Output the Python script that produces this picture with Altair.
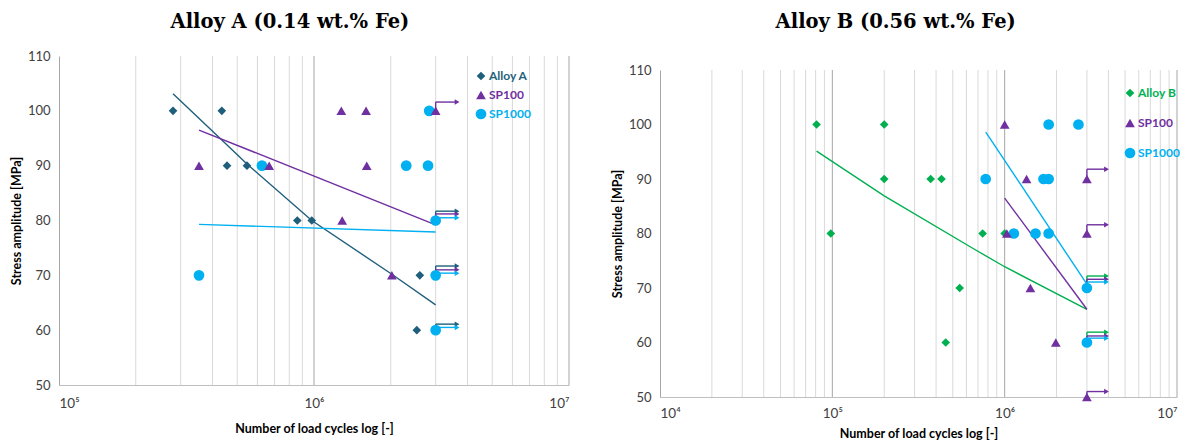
import altair as alt
import pandas as pd

# ---------------- Alloy A (0.14 wt.% Fe) ----------------
A_ALLOY_N = [2.8e5, 4.35e5, 4.56e5, 5.46e5, 8.6e5, 9.8e5, 2.6e6, 2.53e6]
A_ALLOY_S = [100, 100, 90, 90, 80, 80, 70, 60]
A_SP1000_N = [6.25e5, 3.54e5, 2.83e6, 2.3e6, 2.8e6, 3.0e6, 3.0e6, 3.0e6]
A_SP1000_S = [90, 70, 100, 90, 90, 80, 70, 60]
A_SP100_N = [3.54e5, 6.67e5, 1.28e6, 1.6e6, 1.61e6, 1.29e6, 3.0e6, 2.02e6]
A_SP100_S = [90, 90, 100, 100, 90, 80, 100, 70]

A_TREND_ALLOY_N = [2.8e5, 4.35e5, 5.46e5, 9.8e5, 2.02e6, 3.0e6]
A_TREND_ALLOY_S = [103.1, 94.7, 90.3, 80.0, 70.2, 64.6]
A_TREND_SP100_N = [3.54e5, 3.0e6]
A_TREND_SP100_S = [96.5, 79.2]
A_TREND_SP1000_N = [3.54e5, 3.0e6]
A_TREND_SP1000_S = [79.3, 77.9]

A_RUN_SERIES = ["SP100", "Alloy A", "SP100", "SP1000", "Alloy A", "SP100", "SP1000", "Alloy A", "SP1000"]
A_RUN_S0 = [100, 80, 80, 80, 70, 70, 70, 60, 60]
A_RUN_S1 = [101.6, 81.7, 81.2, 80.5, 71.7, 71.0, 70.4, 61.1, 60.5]
A_RUN_N0 = 3.0e6
A_RUN_N1 = 3.64e6

A_MINOR = [2e5, 3e5, 4e5, 5e5, 6e5, 7e5, 8e5, 9e5, 2e6, 3e6, 4e6, 5e6, 6e6, 7e6, 8e6, 9e6]
A_MAJOR = [1e6, 1e7]
A_LABELS = [1e5, 1e6, 1e7]

# ---------------- Alloy B (0.56 wt.% Fe) ----------------
B_ALLOY_N = [8.1e4, 2.0e5, 2.0e5, 9.8e4, 3.72e5, 4.3e5, 7.45e5, 1.0e6, 5.48e5, 4.55e5]
B_ALLOY_S = [100, 100, 90, 80, 90, 90, 80, 80, 70, 60]
B_SP1000_N = [1.8e6, 2.68e6, 7.76e5, 1.68e6, 1.8e6, 1.13e6, 1.51e6, 1.8e6, 3.0e6, 3.0e6]
B_SP1000_S = [100, 100, 90, 90, 90, 80, 80, 80, 70, 60]
B_SP100_N = [1.0e6, 1.34e6, 3.0e6, 1.03e6, 3.0e6, 1.41e6, 1.98e6, 3.0e6]
B_SP100_S = [100, 90, 90, 80, 80, 70, 60, 50]

B_TREND_ALLOY_N = [8.1e4, 2.0e5, 6.6e5, 1.0e6, 3.0e6]
B_TREND_ALLOY_S = [95.1, 86.9, 77.2, 73.9, 66.1]
B_TREND_SP100_N = [1.0e6, 3.0e6]
B_TREND_SP100_S = [86.5, 66.1]
B_TREND_SP1000_N = [7.77e5, 3.0e6]
B_TREND_SP1000_S = [98.6, 70.7]

B_RUN_SERIES = ["SP100", "SP100", "Alloy B", "SP100", "SP1000", "Alloy B", "SP100", "SP1000", "SP100"]
B_RUN_S0 = [90, 80, 70, 70, 70, 60, 60, 60, 50]
B_RUN_S1 = [91.8, 81.6, 72.2, 71.6, 71.1, 61.9, 61.2, 60.8, 51.0]
B_RUN_N0 = 3.0e6
B_RUN_N1 = 3.9e6

B_MINOR = [2e4, 3e4, 4e4, 5e4, 6e4, 7e4, 8e4, 9e4, 2e5, 3e5, 4e5, 5e5, 6e5, 7e5, 8e5, 9e5,
           2e6, 3e6, 4e6, 5e6, 6e6, 7e6, 8e6, 9e6]
B_MAJOR = [1e5, 1e6, 1e7]
B_LABELS = [1e4, 1e5, 1e6, 1e7]

Y_TICKS = [50, 60, 70, 80, 90, 100, 110]
Y_TOP = 110
Y_BOTTOM = 50

PURPLE = "#7030a0"
LBLUE = "#00b0f0"
TEAL = "#1f5f7c"
GREEN = "#00b050"

AXIS_FONT = "Lato"
TITLE_FONT = "DejaVu Serif"

LABEL_EXPR = ("datum.value >= 9e6 ? '10\u2077' : datum.value >= 9e5 ? '10\u2076' : "
              "datum.value >= 9e4 ? '10\u2075' : '10\u2074'")


def long(series, ns, ss):
    return pd.DataFrame({"series": [series] * len(ns), "N": ns, "S": ss})


def panel(title, alloy, alloy_color, pts, trends, runs, n0, n1, xmin, minor, major, labels,
          width, height, ytop, legx, legy, rowpad, xlabelpad, xtitlepad, toff):
    dom = [alloy, "SP100", "SP1000"]
    cmap = {alloy: alloy_color, "SP100": PURPLE, "SP1000": LBLUE}
    color_scale = alt.Scale(domain=dom, range=[alloy_color, PURPLE, LBLUE])
    xs = alt.Scale(type="log", domain=[xmin, 1e7], nice=False)
    ys = alt.Scale(domain=[Y_BOTTOM, Y_TOP], nice=False, range=[height, ytop])
    label_color = (f"datum.label == 'SP100' ? '{PURPLE}' : datum.label == 'SP1000' ? "
                   f"'{LBLUE}' : '{alloy_color}'")

    xaxis = alt.Axis(values=labels, labelExpr=LABEL_EXPR, grid=False, ticks=False,
                     domainColor="#bfbfbf", labelFont=AXIS_FONT, labelFontSize=13.5,
                     labelColor="#404040", labelPadding=xlabelpad,
                     title="Number of load cycles log [-]",
                     titleFont=AXIS_FONT, titleFontSize=12.5, titleFontWeight="bold",
                     titleColor="#000000", titlePadding=xtitlepad)
    yaxis = alt.Axis(values=Y_TICKS, grid=False, ticks=False, domainColor="#a6a6a6",
                     labelFont=AXIS_FONT, labelFontSize=13, labelColor="#404040",
                     labelPadding=9, title="Stress amplitude [MPa]", titleFont=AXIS_FONT,
                     titleFontSize=12.5, titleFontWeight="bold", titleColor="#000000",
                     titlePadding=4)

    trends = trends.copy()
    trends["col"] = trends["series"].map(cmap)
    runs = runs.copy()
    runs["N0"] = n0
    runs["N1"] = n1
    runs["col"] = runs["series"].map(cmap)

    minor_layer = alt.Chart(pd.DataFrame({"v": minor})).mark_rule(
        color="#d9d9d9", strokeWidth=1).encode(
        x=alt.X("v:Q", scale=xs, axis=xaxis),
        y=alt.YDatum(Y_TOP, scale=ys, axis=yaxis), y2=alt.Y2Datum(Y_BOTTOM))
    major_layer = alt.Chart(pd.DataFrame({"v": major})).mark_rule(
        color="#a6a6a6", strokeWidth=1).encode(
        x=alt.X("v:Q", scale=xs, axis=xaxis),
        y=alt.YDatum(Y_TOP, scale=ys, axis=yaxis), y2=alt.Y2Datum(Y_BOTTOM))

    trend_layer = alt.Chart(trends).mark_line(strokeWidth=1.4).encode(
        x=alt.X("N:Q", scale=xs, axis=xaxis),
        y=alt.Y("S:Q", scale=ys, axis=yaxis),
        color=alt.Color("col:N", scale=None),
        detail="series:N",
    )
    vert = alt.Chart(runs).mark_rule(strokeWidth=1.4).encode(
        x=alt.X("N0:Q", scale=xs, axis=xaxis),
        y=alt.Y("S0:Q", scale=ys, axis=yaxis), y2="S1:Q",
        color=alt.Color("col:N", scale=None),
    )
    horiz = alt.Chart(runs).mark_rule(strokeWidth=1.4).encode(
        x=alt.X("N0:Q", scale=xs, axis=xaxis), x2="N1:Q",
        y=alt.Y("S1:Q", scale=ys, axis=yaxis),
        color=alt.Color("col:N", scale=None),
    )
    heads = alt.Chart(runs).mark_point(shape="triangle-right", filled=True, size=30,
                                       opacity=1).encode(
        x=alt.X("N1:Q", scale=xs, axis=xaxis),
        y=alt.Y("S1:Q", scale=ys, axis=yaxis),
        color=alt.Color("col:N", scale=None),
    )

    points = alt.Chart(pts).mark_point(filled=True, opacity=1).encode(
        x=alt.X("N:Q", scale=xs, axis=xaxis),
        y=alt.Y("S:Q", scale=ys, axis=yaxis),
        color=alt.Color("series:N", scale=color_scale, title=None,
                        legend=alt.Legend(orient="none", legendX=legx, legendY=legy,
                                          labelFont=AXIS_FONT, labelFontSize=12,
                                          labelFontWeight="bold",
                                          labelColor=alt.ExprRef(expr=label_color),
                                          symbolSize=45, symbolStrokeWidth=0,
                                          rowPadding=rowpad, labelOffset=2)),
        shape=alt.Shape("series:N", scale=alt.Scale(
            domain=dom, range=["diamond", "triangle-up", "circle"]), title=None),
        size=alt.Size("series:N", scale=alt.Scale(domain=dom, range=[75, 115, 120]),
                      legend=None),
        order=alt.Order("idx:Q"),
    )

    return alt.layer(minor_layer, major_layer, trend_layer, vert, horiz, heads, points).properties(
        width=width, height=height,
        title=alt.TitleParams(text=title, font=TITLE_FONT, fontSize=19.5, fontWeight="bold",
                              color="#000000", anchor="middle", frame="bounds", offset=toff),
    )


def points_df(alloy, an, as_, s1n, s1s, s100n, s100s):
    df = pd.concat([long(alloy, an, as_), long("SP1000", s1n, s1s), long("SP100", s100n, s100s)],
                   ignore_index=True)
    df["idx"] = range(len(df))
    return df


def trends_df(alloy, a, b, c):
    return pd.concat([long(alloy, *a), long("SP100", *b), long("SP1000", *c)], ignore_index=True)


def runs_df(series, s0, s1):
    return pd.DataFrame({"series": series, "S0": s0, "S1": s1})


left = panel(
    "Alloy A (0.14 wt.% Fe)", "Alloy A", TEAL,
    points_df("Alloy A", A_ALLOY_N, A_ALLOY_S, A_SP1000_N, A_SP1000_S, A_SP100_N, A_SP100_S),
    trends_df("Alloy A", (A_TREND_ALLOY_N, A_TREND_ALLOY_S), (A_TREND_SP100_N, A_TREND_SP100_S),
              (A_TREND_SP1000_N, A_TREND_SP1000_S)),
    runs_df(A_RUN_SERIES, A_RUN_S0, A_RUN_S1), A_RUN_N0, A_RUN_N1,
    1e5, A_MINOR, A_MAJOR, A_LABELS, 510, 329, 0, 416, 14, 7, 11, 13, 18,
)

right = panel(
    "Alloy B (0.56 wt.% Fe)", "Alloy B", GREEN,
    points_df("Alloy B", B_ALLOY_N, B_ALLOY_S, B_SP1000_N, B_SP1000_S, B_SP100_N, B_SP100_S),
    trends_df("Alloy B", (B_TREND_ALLOY_N, B_TREND_ALLOY_S), (B_TREND_SP100_N, B_TREND_SP100_S),
              (B_TREND_SP1000_N, B_TREND_SP1000_S)),
    runs_df(B_RUN_SERIES, B_RUN_S0, B_RUN_S1), B_RUN_N0, B_RUN_N1,
    1e4, B_MINOR, B_MAJOR, B_LABELS, 517, 341, 14, 464, 31, 18, 9, 8, 24,
)

chart = alt.hconcat(left, right, spacing=41).resolve_scale(
    color="independent", shape="independent", size="independent", x="independent",
    y="independent"
).properties(
    padding={"left": 10, "top": 11, "right": 0, "bottom": 0},
    background="white",
).configure_view(stroke=None)

chart.save("out.html", embed_options={"renderer": "svg", "actions": False})
